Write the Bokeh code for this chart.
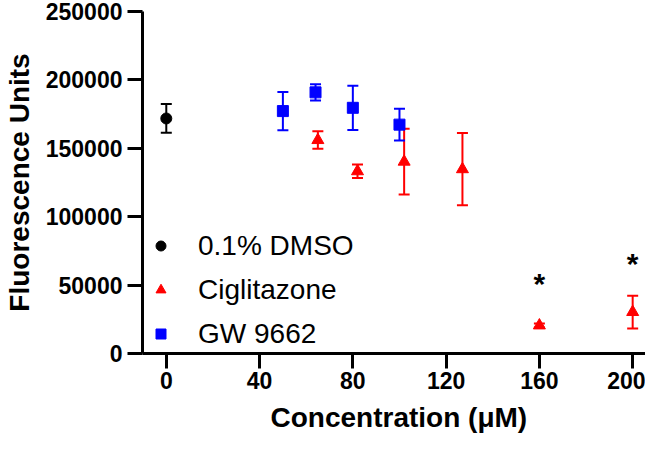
from bokeh.plotting import figure
from bokeh.models import (ColumnDataSource, Whisker, TeeHead, Legend, LegendItem,
                          FixedTicker, NumeralTickFormatter, Range1d, Title)
from bokeh.core.properties import value
from bokeh.embed import file_html
from bokeh.resources import INLINE

# ---- data ----
dmso_x = [0]
dmso_y = [171800]
dmso_sd = [10500]

cig_x = [65, 82, 102, 127, 160, 200]
cig_y = [156000, 133200, 140200, 134700, 20500, 30300]
cig_sd = [6400, 5000, 24000, 26400, 1500, 12000]

gw_x = [50, 64, 80, 100]
gw_y = [177200, 190900, 179600, 167300]
gw_sd = [14000, 5900, 16200, 11600]

sig_x = [160, 200]
sig_y = [51500, 65500]
sig_labels = ["*", "*"]

x_ticks = [0, 40, 80, 120, 160, 200]
y_ticks = [0, 50000, 100000, 150000, 200000, 250000]

x_title = "Concentration (\u03bcM)"
y_title = "Fluorescence Units"

FONT = "Liberation Sans"

p = figure(width=645, height=440,
           x_range=Range1d(-10.2, 205.5), y_range=Range1d(0, 250000),
           output_backend="svg", toolbar_location=None,
           min_border_left=135, min_border_right=0, min_border_top=11,
           min_border_bottom=0)
p.xgrid.visible = False
p.ygrid.visible = False
p.outline_line_color = None
p.background_fill_color = "white"
p.border_fill_color = "white"

for ax in (p.xaxis[0], p.yaxis[0]):
    ax.axis_line_width = 3
    ax.axis_line_color = "black"
    ax.major_tick_line_width = 3
    ax.major_tick_line_color = "black"
    ax.major_tick_out = 15
    ax.major_tick_in = 0
    ax.minor_tick_line_color = None
    ax.major_label_text_font = FONT
    ax.major_label_text_font_style = "bold"
    ax.major_label_text_color = "black"
    ax.axis_label_text_font = FONT
    ax.axis_label_text_font_style = "bold"
    ax.axis_label_text_color = "black"
    ax.axis_label_text_font_size = "28px"

p.xaxis[0].ticker = FixedTicker(ticks=x_ticks)
p.yaxis[0].ticker = FixedTicker(ticks=y_ticks)
p.yaxis[0].formatter = NumeralTickFormatter(format="0")
p.xaxis[0].major_label_text_font_size = "23px"
p.yaxis[0].major_label_text_font_size = "23px"
p.xaxis[0].major_label_standoff = 3
p.yaxis[0].major_label_standoff = 5
p.yaxis[0].axis_label = y_title
p.yaxis[0].axis_label_standoff = 8

# x-axis title as a title panel below the axis
p.add_layout(Title(text=x_title, align="left", offset=128, standoff=16,
                   text_font=FONT, text_font_size="28px",
                   text_font_style="bold", text_color="black",
                   text_line_height=0.6), "below")


def add_series(xs, ys, sds, color, marker, size):
    src = ColumnDataSource(dict(x=xs, y=ys,
                                upper=[a + b for a, b in zip(ys, sds)],
                                lower=[a - b for a, b in zip(ys, sds)]))
    w = Whisker(base="x", upper="upper", lower="lower", source=src,
                dimension="height", line_color=color, line_width=2,
                upper_head=TeeHead(size=11, line_color=color, line_width=2),
                lower_head=TeeHead(size=11, line_color=color, line_width=2),
                level="underlay")
    p.add_layout(w)
    r = p.scatter("x", "y", source=src, marker=marker, size=size,
                  fill_color=color, line_color=color)
    return r


r_dmso = add_series(dmso_x, dmso_y, dmso_sd, "black", "circle", 11)
r_cig = add_series(cig_x, cig_y, cig_sd, "#ff0000", "triangle", 12)
r_gw = add_series(gw_x, gw_y, gw_sd, "#0000ff", "square", 11)

p.text(x=sig_x, y=sig_y, text=sig_labels, text_font=value(FONT),
       text_font_size="30px", text_font_style="bold", text_align="center",
       text_baseline="middle", text_color="black")

legend = Legend(items=[
    LegendItem(label="0.1% DMSO", renderers=[r_dmso]),
    LegendItem(label="Ciglitazone", renderers=[r_cig]),
    LegendItem(label="GW 9662", renderers=[r_gw]),
], location=(6, -2), padding=0, margin=0, spacing=1,
    glyph_width=25, glyph_height=25, label_height=43, label_standoff=25,
    label_text_font=FONT, label_text_font_size="28px",
    label_text_color="black", background_fill_alpha=0,
    border_line_alpha=0)
p.add_layout(legend, "center")

open("out.html", "w").write(file_html(p, INLINE))
